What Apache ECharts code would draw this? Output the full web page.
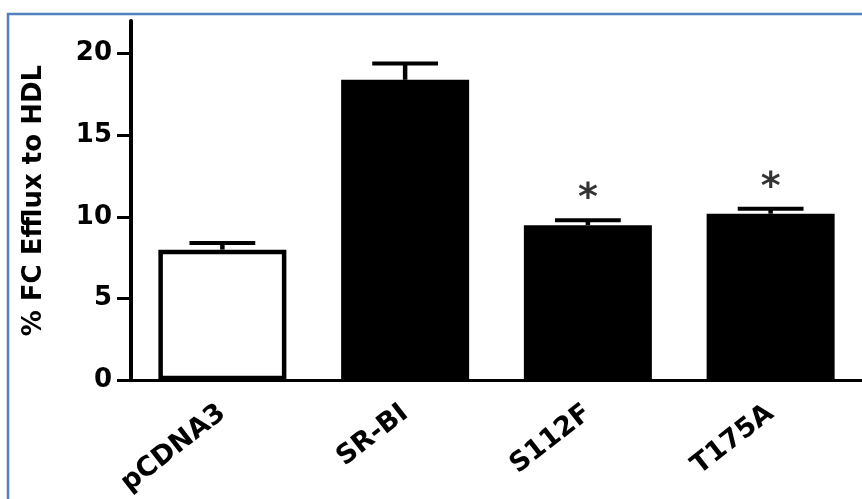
<!DOCTYPE html>
<html>
<head>
<meta charset="utf-8">
<script src="https://cdn.jsdelivr.net/npm/echarts@6/dist/echarts.min.js"></script>
<style>html,body{margin:0;padding:0;background:#fff;}#c{width:862px;height:499px;}</style>
</head>
<body>
<div id="c"></div>
<script>
const categories = ['pCDNA3', 'SR-BI', 'S112F', 'T175A'];
const means = [8.0, 18.4, 9.5, 10.2];
const errHigh = [8.4, 19.4, 9.8, 10.5];
const significance = ['', '', '*', '*'];
const yTicks = [0, 5, 10, 15, 20];
const openBars = ['pCDNA3'];
const yTitle = '% FC Efflux to HDL';

const FONT = 'DejaVu Sans';
const chart = echarts.init(document.getElementById('c'), null, {renderer: 'canvas'});

const barData = means.map((v, i) => {
  const open = openBars.includes(categories[i]);
  return {
    value: v,
    itemStyle: open ? {color: '#ffffff', borderColor: '#000', borderWidth: 4.5} : {color: '#000'}
  };
});

const errData = means.map((v, i) => [i, v, errHigh[i]]);
const starData = [];
significance.forEach((s, i) => { if (s) starData.push({value: [i, errHigh[i]], sig: s}); });

chart.setOption({
  animation: false,
  backgroundColor: '#fff',
  graphic: [{
    type: 'rect',
    shape: {x: 8, y: 14, width: 2000, height: 2000},
    style: {fill: 'none', stroke: '#4f81bd', lineWidth: 2.5},
    silent: true, z: 100
  }],
  grid: {left: 131, right: -5, top: 21, bottom: 116, containLabel: false},
  xAxis: {
    type: 'category',
    data: categories,
    axisLine: {lineStyle: {color: '#000', width: 3}},
    axisTick: {alignWithLabel: true, length: 11, lineStyle: {color: '#000', width: 3}},
    axisLabel: {rotate: 38, margin: 30, color: '#000', fontFamily: FONT, fontWeight: 'bold', fontSize: 27},
    splitLine: {show: false}
  },
  yAxis: {
    type: 'value',
    min: 0, max: 22,
    name: yTitle,
    nameLocation: 'middle',
    nameRotate: 90,
    nameGap: 84,
    nameTextStyle: {color: '#000', fontFamily: FONT, fontWeight: 'bold', fontSize: 26},
    axisLine: {show: true, lineStyle: {color: '#000', width: 4}},
    axisTick: {show: true, length: 14, customValues: yTicks, lineStyle: {color: '#000', width: 3}},
    axisLabel: {customValues: yTicks, margin: 19, color: '#000', fontFamily: FONT, fontWeight: 'bold', fontSize: 26},
    splitLine: {show: false}
  },
  series: [
    {
      type: 'bar',
      data: barData,
      barWidth: 128,
      z: 2
    },
    {
      type: 'custom',
      z: 3,
      data: errData,
      encode: {x: 0, y: [1, 2]},
      renderItem: function (params, api) {
        const i = api.value(0);
        const p0 = api.coord([i, api.value(1)]);
        const p1 = api.coord([i, api.value(2)]);
        const half = api.size([1, 0])[0] * 0.18;
        return {
          type: 'group',
          children: [
            {type: 'line', shape: {x1: p0[0], y1: p0[1], x2: p1[0], y2: p1[1]}, style: {stroke: '#000', lineWidth: 4.5}},
            {type: 'line', shape: {x1: p1[0] - half, y1: p1[1], x2: p1[0] + half, y2: p1[1]}, style: {stroke: '#000', lineWidth: 4}}
          ]
        };
      }
    },
    {
      type: 'scatter',
      data: starData,
      symbolSize: 0,
      z: 4,
      label: {
        show: true,
        position: 'top',
        distance: 2,
        formatter: p => p.data.sig,
        color: '#000',
        fontFamily: FONT,
        fontWeight: 'bold',
        fontSize: 38
      }
    }
  ]
});
</script>
</body>
</html>
